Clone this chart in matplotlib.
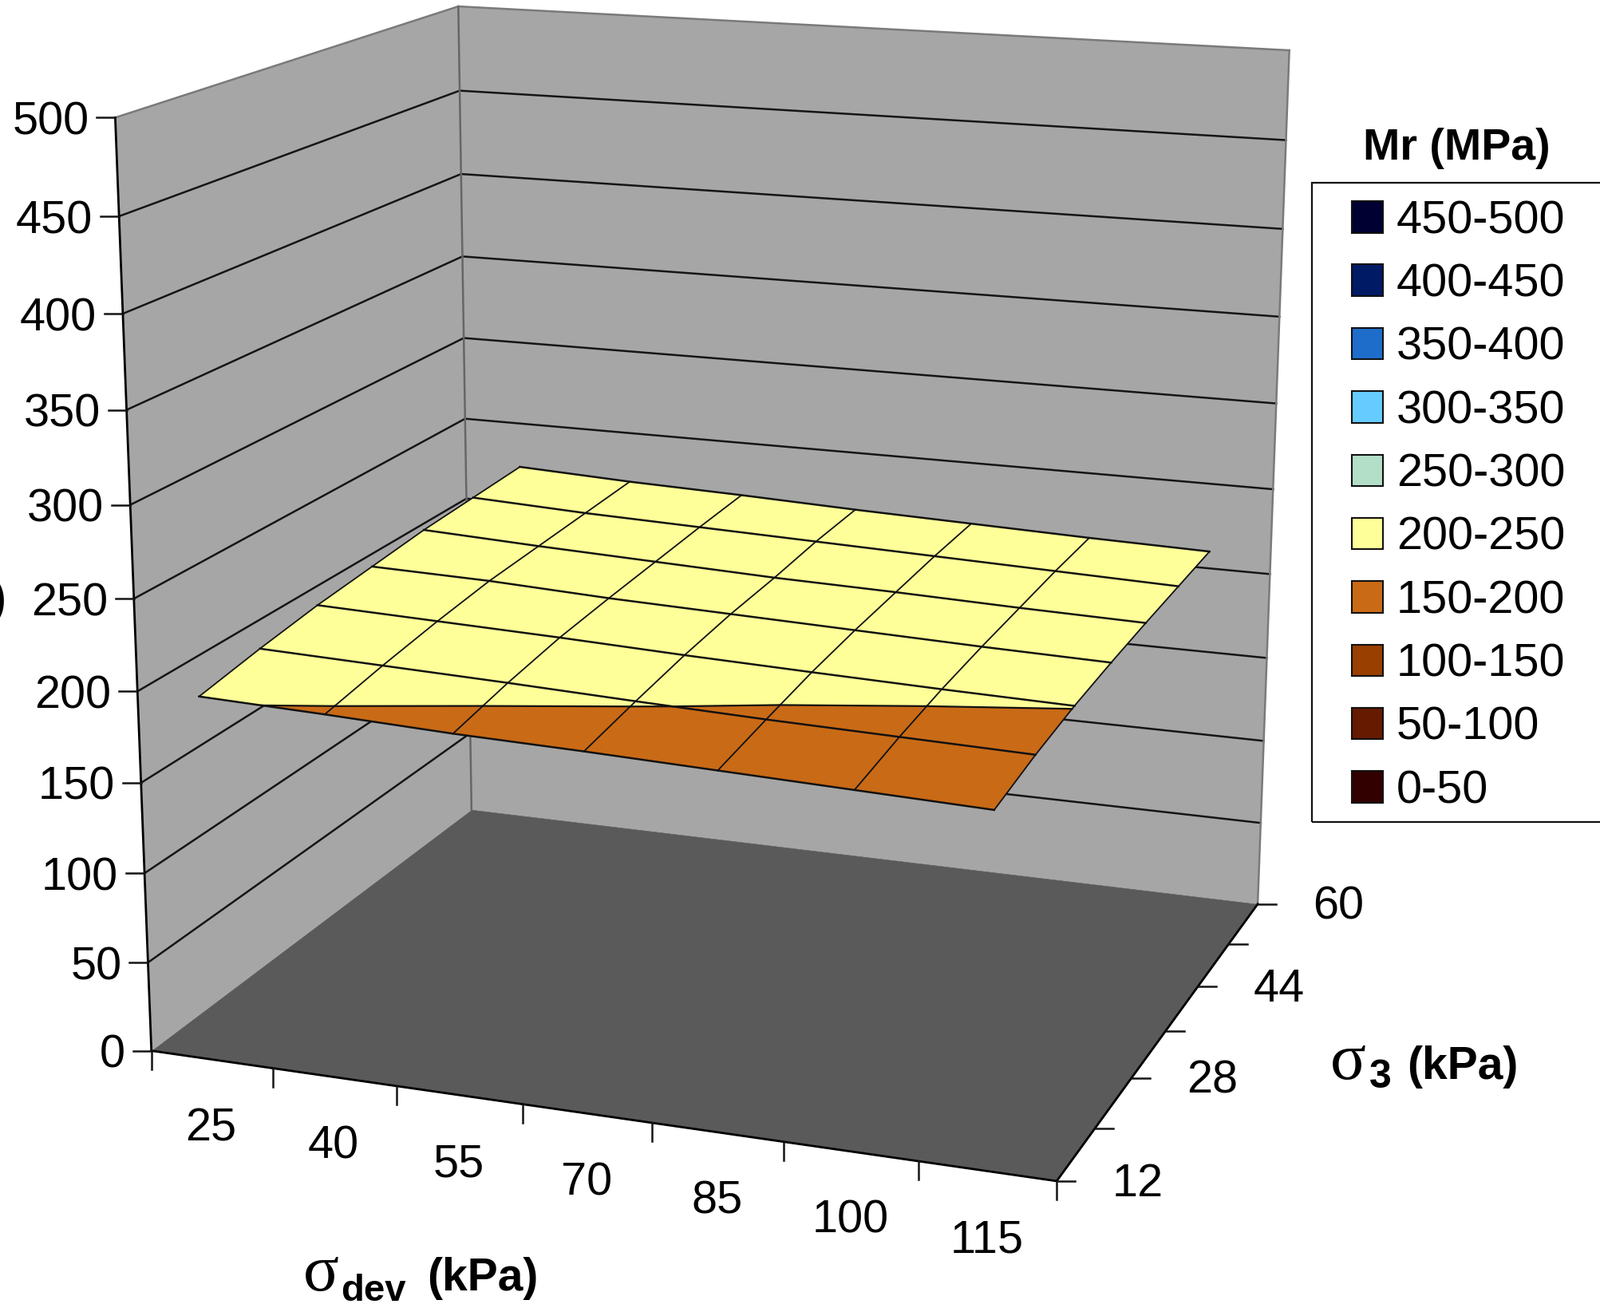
import numpy as np
import matplotlib
matplotlib.use("Agg")
import matplotlib.pyplot as plt
from matplotlib.lines import Line2D
from matplotlib.patches import Patch, Rectangle
from mpl_toolkits.mplot3d.art3d import Poly3DCollection
from mpl_toolkits.mplot3d import proj3d

# ---- data -------------------------------------------------------------
sigma_dev = [25, 40, 55, 70, 85, 100, 115]
sigma_3 = [12, 20, 28, 36, 44, 52, 60]
sigma_3_labels = {12: "12", 28: "28", 44: "44", 60: "60"}
z_ticks = [0, 50, 100, 150, 200, 250, 300, 350, 400, 450, 500]
# Mr (MPa): one row per sigma_3, one column per sigma_dev
mr_12 = [201, 199, 196.5, 195, 193, 191, 189]
mr_20 = [207, 205, 203, 200.6, 198.5, 197, 195.5]
mr_28 = [212, 210, 208, 205.5, 203.5, 201.7, 200.3]
mr_36 = [215.5, 214, 211, 209, 207, 205, 203.5]
mr_44 = [219, 216, 213.5, 211, 209.5, 207.5, 206]
mr_52 = [221, 218, 216, 214, 212, 210, 208]
mr_60 = [223, 220, 218, 215.5, 213.5, 211.5, 210]
mr = np.array([mr_12, mr_20, mr_28, mr_36, mr_44, mr_52, mr_60], float)
band_edges = [0, 50, 100, 150, 200, 250, 300, 350, 400, 450, 500]
band_labels = ["0-50", "50-100", "100-150", "150-200", "200-250",
               "250-300", "300-350", "350-400", "400-450", "450-500"]
band_colors = ["#330000", "#661a00", "#993f00", "#c96a16", "#ffff99",
               "#b3dec8", "#66ccff", "#1f6dcb", "#001a66", "#000033"]

# ---- figure / camera ---------------------------------------------------
W, H = 2006, 1634
FONT = "Liberation Sans"
FS = 41.5
plt.rcParams["font.family"] = FONT
fig = plt.figure(figsize=(W / 100, H / 100), dpi=100, facecolor="white")
ax = fig.add_axes([0, 0, 1, 1], projection="3d", computed_zorder=False)
ax.set_axis_off()
ax.patch.set_visible(False)
ax.set_proj_type("ortho")     # no unit-cube clipping: the camera matrix below supplies the perspective
ax.apply_aspect = lambda position=None: None
ax.viewLim.intervalx = (0, W)
ax.viewLim.intervaly = (0, H)

# perspective camera calibrated on the chart box (model -> reference pixel)
S = W / 1568
cal_left = [(113, 118), (116, 212), (120, 308), (124, 402), (128, 494), (131, 585),
            (134, 676), (138, 765), (141, 855), (145, 943), (148, 1030)]
cal_back = [(449, 6), (450, 88), (451, 171), (453, 251), (455, 331), (457, 409)]
cal_right = [(1262, 48), (1260, 137), (1257, 224), (1254, 310), (1251, 396), (1247, 479),
             (1243, 565), (1240, 645), (1237, 725), (1234, 805), (1232, 885)]
zdesc = z_ticks[::-1]
cal = [(0, 12, z, p) for z, p in zip(zdesc, cal_left)]
cal += [(0, 60, z, p) for z, p in zip(zdesc, cal_back)] + [(0, 60, 0, (462, 795))]
cal += [(7, 60, z, p) for z, p in zip(zdesc, cal_right)] + [(7, 12, 0, (1037, 1157))]
rowsA = []
for x, y, z, (u, v) in cal:
    u, v = u * S, H - v * S
    rowsA.append([x, y, z, 1, 0, 0, 0, 0, -u * x, -u * y, -u * z, -u])
    rowsA.append([0, 0, 0, 0, x, y, z, 1, -v * x, -v * y, -v * z, -v])
P = np.linalg.svd(np.array(rowsA))[2][-1].reshape(3, 4)
M = np.vstack([P[0], P[1], [0, 0, 0, 1], P[2]])
ax.get_proj = lambda: M
ax.M = M
ax.set_xlim(0, 7)
ax.set_ylim(12, 60)
ax.set_zlim(0, 500)
ax.autoscale(False)


def px(x, y, z):
    X, Y, _ = proj3d.proj_transform(x, y, z, M)
    return float(X), float(Y)


def seg2d(a, b, **kw):
    fig.add_artist(Line2D([a[0], b[0]], [a[1], b[1]], transform=ax.transData,
                          clip_on=False, **kw))


x_pos = np.arange(len(sigma_dev)) + 0.5      # categories sit in the middle of their bins
x_edges = np.arange(len(sigma_dev) + 1)
y_min, y_max = sigma_3[0], sigma_3[-1]
x_max = x_edges[-1]
z_max = z_ticks[-1]

# ---- box ---------------------------------------------------------------
PANE = "#a6a6a6"
FLOOR = "#5a5a5a"
EDGE = "#7a7a7a"
ax.add_collection3d(Poly3DCollection(
    [[(0, y_min, 0), (0, y_max, 0), (0, y_max, z_max), (0, y_min, z_max)],
     [(0, y_max, 0), (x_max, y_max, 0), (x_max, y_max, z_max), (0, y_max, z_max)]],
    facecolors=PANE, edgecolors=PANE, linewidths=0.5, zorder=1))
ax.add_collection3d(Poly3DCollection(
    [[(0, y_min, 0), (x_max, y_min, 0), (x_max, y_max, 0), (0, y_max, 0)]],
    facecolors=FLOOR, edgecolors=FLOOR, linewidths=0.5, zorder=2))

LW = 1.8
for z in z_ticks[1:-1]:
    ax.plot([0, 0, x_max], [y_min, y_max, y_max], [z, z, z], color="#151515", lw=LW, zorder=3)
ax.plot([0, 0, x_max], [y_min, y_max, y_max], [z_max] * 3, color=EDGE, lw=LW, zorder=3)
ax.plot([0, 0], [y_max, y_max], [0, z_max], color="#666666", lw=LW, zorder=3)
ax.plot([x_max, x_max], [y_max, y_max], [0, z_max], color=EDGE, lw=LW, zorder=3)
ax.plot([0, 0], [y_min, y_min], [0, z_max], color="black", lw=LW + 0.2, zorder=8)
ax.plot([0, x_max], [y_min, y_min], [0, 0], color="black", lw=LW + 0.2, zorder=8)
ax.plot([x_max, x_max], [y_min, y_max], [0, 0], color="black", lw=LW + 0.2, zorder=8)


# ---- surface split in colour bands ------------------------------------
def clip(poly, level, keep_above):
    out, crossing = [], []
    n = len(poly)
    for k in range(n):
        a, b = poly[k], poly[(k + 1) % n]
        ina = a[2] >= level if keep_above else a[2] <= level
        inb = b[2] >= level if keep_above else b[2] <= level
        if ina:
            out.append(a)
        if ina != inb:
            t = (level - a[2]) / (b[2] - a[2])
            q = tuple(a[m] + t * (b[m] - a[m]) for m in range(3))
            out.append(q)
            crossing.append(q)
    return out, crossing


band_polys = {k: [] for k in range(len(band_labels))}
contours = []
for j in range(len(sigma_3) - 1):
    for i in range(len(sigma_dev) - 1):
        quad = [(x_pos[i], sigma_3[j], mr[j, i]), (x_pos[i + 1], sigma_3[j], mr[j, i + 1]),
                (x_pos[i + 1], sigma_3[j + 1], mr[j + 1, i + 1]), (x_pos[i], sigma_3[j + 1], mr[j + 1, i])]
        for k in range(len(band_labels)):
            p, _ = clip(quad, band_edges[k], True)
            if len(p) >= 3:
                p, _ = clip(p, band_edges[k + 1], False)
            if len(p) >= 3:
                band_polys[k].append(p)
        for lev in band_edges:
            _, c = clip(quad, lev, True)
            if len(c) == 2:
                contours.append(c)
for k, polys in band_polys.items():
    if polys:
        ax.add_collection3d(Poly3DCollection(polys, facecolors=band_colors[k],
                                             edgecolors=band_colors[k], linewidths=0.4, zorder=4))
GRID = "#111111"
for j in range(len(sigma_3)):
    ax.plot(x_pos, [sigma_3[j]] * len(x_pos), mr[j], color=GRID, lw=1.8, zorder=6)
for i in range(len(sigma_dev)):
    ax.plot([x_pos[i]] * len(sigma_3), sigma_3, mr[:, i], color=GRID, lw=1.3, zorder=6)
for c in contours:
    ax.plot(*zip(*c), color=GRID, lw=1.6, zorder=5)

# ---- ticks and labels --------------------------------------------------
TICK = 23
for z in z_ticks:
    a = px(0, y_min, z)
    seg2d(a, (a[0] - TICK, a[1]), color="#151515", lw=LW, zorder=7)
    ax.text2D(a[0] - 33, a[1] - 6, str(z), transform=ax.transData, ha="right", va="center",
              fontsize=FS, family=FONT, clip_on=False)
for x in x_edges:
    a = px(x, y_min, 0)
    seg2d(a, (a[0], a[1] - TICK), color="#151515", lw=LW, zorder=7)
for x, lab in zip(x_pos, sigma_dev):
    a = px(x, y_min, 0)
    ax.text2D(a[0] - 1, a[1] - 87, str(lab), transform=ax.transData, ha="center", va="center",
              fontsize=FS, family=FONT, clip_on=False)
for y in sigma_3:
    a = px(x_max, y, 0)
    seg2d(a, (a[0] + TICK, a[1]), color="#151515", lw=LW, zorder=7)
    if y in sigma_3_labels:
        ax.text2D(a[0] + 69.5, a[1] - 4, sigma_3_labels[y], transform=ax.transData, ha="left",
                  va="center", fontsize=FS, family=FONT, clip_on=False)


def T(x, ybase, s, **kw):
    kw.setdefault("fontsize", 41)
    kw.setdefault("family", FONT)
    kw.setdefault("fontweight", "bold")
    return ax.text2D(x, H - ybase, s, transform=ax.transData, ha=kw.pop("ha", "left"),
                     va="baseline", clip_on=False, **kw)


SERIF = "Liberation Serif"
T(380, 1617, "σ", family=SERIF, fontsize=60, fontweight="normal")
T(427, 1630, "dev", fontsize=34)
T(535, 1617, "(kPa)")
T(1667, 1352, "σ", family=SERIF, fontsize=60, fontweight="normal")
T(1716, 1363, "3", fontsize=36)
T(1763, 1352, "(kPa)")
T(1825, 200, "Mr (MPa)", ha="center", fontsize=40)
T(8, 767, "Mr (MPa)", ha="right", fontsize=40)

# ---- legend ------------------------------------------------------------
fig.add_artist(Rectangle((1644, H - 1030), 500, 801, transform=ax.transData, facecolor="none",
                         edgecolor="#111111", lw=1.6, clip_on=False, zorder=5))
handles = [Patch(facecolor=c, edgecolor="#111111", linewidth=1.5, label=l)
           for c, l in zip(band_colors[::-1], band_labels[::-1])]
FS_PX = FS * 100 / 72
leg = ax.legend(handles=handles, loc="upper left", bbox_to_anchor=(1694, H - 250),
                bbox_transform=ax.transData, frameon=False,
                borderaxespad=0, borderpad=0, handlelength=39 / FS_PX, handleheight=39 / FS_PX,
                handletextpad=17 / FS_PX, labelspacing=0.44, prop={"family": FONT, "size": FS})
leg.set_zorder(10)

fig.savefig("out.png", dpi=100, facecolor="white")
